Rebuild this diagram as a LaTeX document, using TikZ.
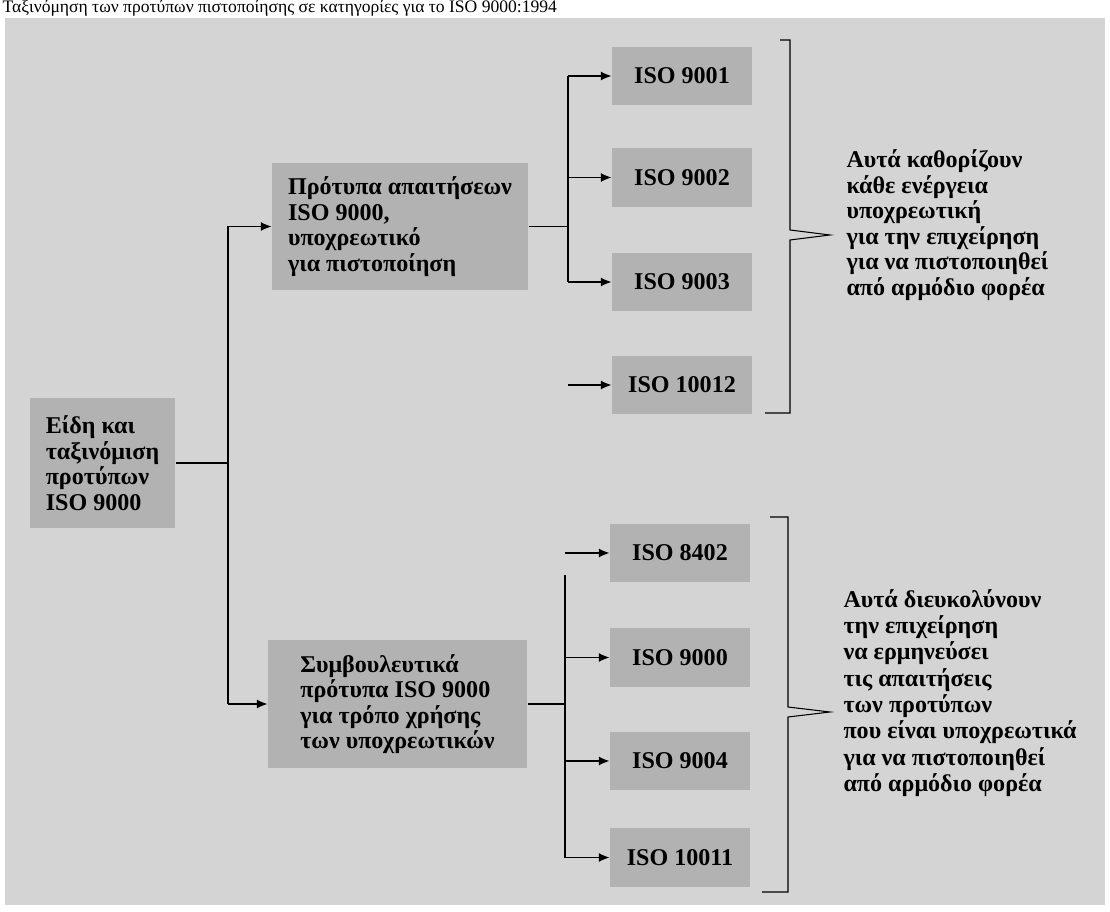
\documentclass[tikz,border=0pt]{standalone}
\usepackage{fontspec}
\setmainfont{Liberation Serif}
\usetikzlibrary{arrows.meta}
\usetikzlibrary{positioning}

\tikzset{
  txt/.style={font=\bfseries\fontsize{13.7pt}{14.5pt}\selectfont},
  box/.style={txt, fill=black!30, align=left, inner sep=0pt},
  isobox/.style={box, align=center, minimum width=2.8cm, minimum height=1.18cm},
  note/.style={txt, align=left, inner sep=0pt, anchor=west},
  arr/.style={-{Latex[length=6pt,width=5pt]}},
  line/.style={line width=0.6pt}
}

\begin{document}
\begin{tikzpicture}[x=0.02cm, y=-0.02cm, line]
    \useasboundingbox (0,0) rectangle (1110,912);
    \clip (0,0) rectangle (1110,912);
    \fill[white] (0,0) rectangle (1110,912);
    \fill[black!17] (5,18) rectangle (1105,905);

    \node[anchor=base west, inner sep=0pt, font=\fontsize{10pt}{12pt}\selectfont] (title) at (2,13)
        {Ταξινόμηση των προτύπων πιστοποίησης σε κατηγορίες για το ISO 9000:1994};

    \node[box, minimum width=2.9cm, minimum height=2.6cm] (root) at (102.5,463)
        {Είδη και\\ταξινόμιση\\προτύπων\\ISO 9000};

    \node[box, minimum width=5.12cm, minimum height=2.54cm] (req) at (400,226.5)
        {Πρότυπα απαιτήσεων\\ISO 9000,\\υποχρεωτικό\\για πιστοποίηση};

    \node[box, minimum width=5.18cm, minimum height=2.56cm] (sug) at (397.5,704)
        {Συμβουλευτικά\\πρότυπα ISO 9000\\για τρόπο χρήσης\\των υποχρεωτικών};

    % upper group
    \node[isobox] (i9001) at (682,76) {ISO 9001};
    \node[isobox] (i9002) at (682,177.5) {ISO 9002};
    \node[isobox] (i9003) at (682,282) {ISO 9003};
    \node[isobox] (i10012) at (682,385) {ISO 10012};

    % lower group
    \node[isobox] (i8402) at (680,553) {ISO 8402};
    \node[isobox] (i9000) at (680,657.5) {ISO 9000};
    \node[isobox] (i9004) at (680,761) {ISO 9004};
    \node[isobox] (i10011) at (680,857.5) {ISO 10011};

    \node[note, font=\bfseries\fontsize{13.7pt}{14.5pt}\selectfont] (noteA) at (846,225)
        {Αυτά καθορίζουν\\κάθε ενέργεια\\υποχρεωτική\\για την επιχείρηση\\για να πιστοποιηθεί\\από αρμόδιο φορέα};

    \node[note, font=\bfseries\fontsize{13.7pt}{15pt}\selectfont] (noteB) at (843,693)
        {Αυτά διευκολύνουν\\την επιχείρηση\\να ερμηνεύσει\\τις απαιτήσεις\\των προτύπων\\που είναι υποχρεωτικά\\για να πιστοποιηθεί\\από αρμόδιο φορέα};

    % root to the two kinds
    \coordinate (tA) at (228,226.5);
    \coordinate (tB) at (228,704);
    \draw (root.east) -- (root.east -| tA);
    \draw (tA) -- (tB);
    \draw[arr] (tA) -- (req.west);
    \draw[arr] (tB) -- (sug.west);

    % upper fan
    \coordinate (uA) at (568,76);
    \coordinate (uB) at (568,282);
    \coordinate (uC) at (568,385);
    \draw (req.east) -- (req.east -| uA);
    \draw (uA) -- (uB);
    \draw[arr] (uA) -- (i9001.west);
    \draw[arr] (uA |- i9002) -- (i9002.west);
    \draw[arr] (uB) -- (i9003.west);
    \draw[arr] (uC) -- (i10012.west);

    % lower fan
    \coordinate (lA) at (565,553);
    \coordinate (lB) at (565,575);
    \coordinate (lC) at (565,857.5);
    \draw (sug.east) -- (sug.east -| lB);
    \draw (lB) -- (lC);
    \draw[arr] (lA) -- (i8402.west);
    \draw[arr] (lB |- i9000) -- (i9000.west);
    \draw[arr] (lB |- i9004) -- (i9004.west);
    \draw[arr] (lC) -- (i10011.west);

    % brackets
    \draw (780,40) -- (790,40) -- (790,230) -- (830,235) -- (790,240) -- (790,413) -- (765,413);
    \draw (770,517) -- (788,517) -- (788,707) -- (830,712) -- (788,717) -- (788,892) -- (762,892);

\end{tikzpicture}
\end{document}
